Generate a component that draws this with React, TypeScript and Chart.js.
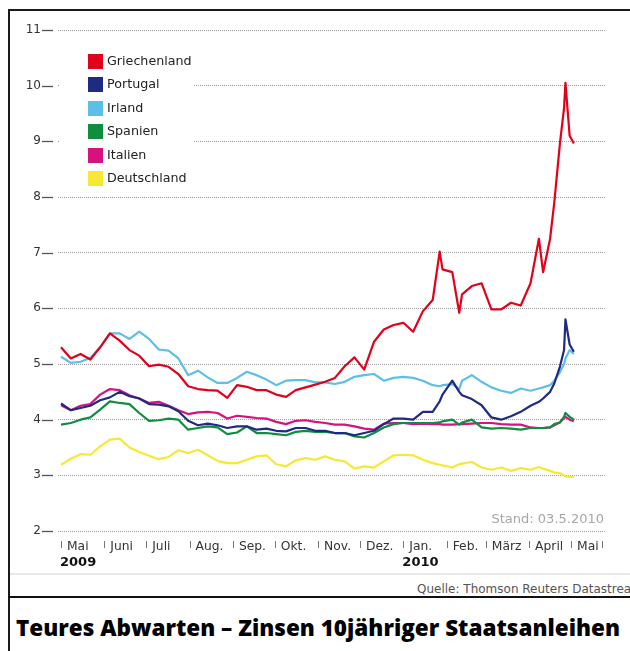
import React, { useEffect, useRef } from 'react';
import { Chart, registerables } from 'chart.js';

Chart.register(...registerables);

// Days since 1 May 2009
const days = [
  0, 7, 14, 21, 28, 35, 42, 49, 56, 63, 70, 77, 84, 91, 98, 105, 112, 119, 126, 133,
  140, 147, 154, 161, 168, 175, 182, 189, 196, 203, 210, 217, 224, 231, 238, 245, 252, 259, 266,
  271, 273, 280, 285, 287, 294, 301, 308, 315, 322, 329, 336,
  342, 345, 350, 353, 357, 360, 361, 364, 367,
];

const griechenland = [
  5.30, 5.10, 5.18, 5.08, 5.30, 5.55, 5.42, 5.25, 5.15, 4.96, 4.99, 4.95, 4.82, 4.60, 4.55, 4.53, 4.52, 4.39, 4.62, 4.59,
  4.53, 4.53, 4.45, 4.41, 4.53, 4.58, 4.63, 4.68, 4.75, 4.96, 5.12, 4.90, 5.40, 5.62, 5.70, 5.74, 5.58, 5.95, 6.15,
  7.02, 6.70, 6.65, 5.92, 6.25, 6.40, 6.45, 5.98, 5.98, 6.10, 6.05, 6.45,
  7.25, 6.65, 7.25, 7.90, 8.95, 9.60, 10.05, 9.10, 8.96,
];

const portugal = [
  4.29, 4.17, 4.21, 4.25, 4.35, 4.40, 4.50, 4.42, 4.38, 4.28, 4.27, 4.24, 4.15, 3.98, 3.90, 3.93, 3.90, 3.85, 3.88, 3.88,
  3.82, 3.84, 3.80, 3.79, 3.85, 3.85, 3.80, 3.80, 3.76, 3.76, 3.72, 3.76, 3.80, 3.92, 4.02, 4.02, 4.00, 4.14, 4.14,
  4.33, 4.45, 4.70, 4.50, 4.44, 4.37, 4.26, 4.04, 4.00, 4.06, 4.14, 4.25,
  4.32, 4.38, 4.50, 4.65, 4.95, 5.25, 5.80, 5.35, 5.22,
];

const irland = [
  5.13, 5.02, 5.04, 5.11, 5.30, 5.55, 5.55, 5.45, 5.58, 5.45, 5.26, 5.24, 5.10, 4.80, 4.88, 4.76, 4.66, 4.66, 4.75, 4.86,
  4.80, 4.72, 4.62, 4.70, 4.71, 4.71, 4.67, 4.67, 4.64, 4.68, 4.77, 4.80, 4.82, 4.70, 4.75, 4.77, 4.75, 4.70, 4.62,
  4.60, 4.62, 4.64, 4.55, 4.70, 4.80, 4.68, 4.58, 4.52, 4.48, 4.56, 4.52,
  4.56, 4.58, 4.62, 4.70, 4.85, 5.00, 5.10, 5.25, 5.18,
];

const spanien = [
  3.91, 3.94, 4.00, 4.04, 4.18, 4.33, 4.30, 4.28, 4.12, 3.98, 3.99, 4.02, 4.00, 3.82, 3.85, 3.88, 3.86, 3.74, 3.77, 3.88,
  3.76, 3.76, 3.74, 3.72, 3.78, 3.80, 3.78, 3.78, 3.76, 3.76, 3.70, 3.68, 3.76, 3.86, 3.92, 3.94, 3.94, 3.94, 3.94,
  3.95, 3.97, 4.00, 3.91, 3.95, 4.00, 3.86, 3.84, 3.85, 3.84, 3.82, 3.85,
  3.85, 3.85, 3.86, 3.92, 3.95, 4.05, 4.12, 4.05, 4.00,
];

const italien = [
  4.26, 4.17, 4.25, 4.28, 4.45, 4.55, 4.53, 4.44, 4.38, 4.30, 4.32, 4.25, 4.17, 4.10, 4.13, 4.14, 4.12, 4.02, 4.07, 4.05,
  4.03, 4.02, 3.96, 3.92, 3.98, 3.99, 3.96, 3.94, 3.91, 3.91, 3.88, 3.84, 3.82, 3.93, 3.94, 3.94, 3.92, 3.93, 3.92,
  3.92, 3.91, 3.91, 3.92, 3.92, 3.93, 3.94, 3.94, 3.92, 3.91, 3.91, 3.86,
  3.85, 3.85, 3.86, 3.90, 3.95, 4.03, 4.05, 4.00, 3.97,
];

const deutschland = [
  3.19, 3.30, 3.38, 3.37, 3.52, 3.64, 3.66, 3.50, 3.42, 3.35, 3.29, 3.33, 3.45, 3.40, 3.46, 3.36, 3.26, 3.22, 3.22, 3.28,
  3.34, 3.36, 3.20, 3.16, 3.27, 3.31, 3.28, 3.34, 3.28, 3.25, 3.12, 3.16, 3.14, 3.25, 3.36, 3.37, 3.36, 3.28, 3.22,
  3.19, 3.18, 3.14, 3.20, 3.21, 3.24, 3.14, 3.10, 3.14, 3.08, 3.13, 3.10,
  3.15, 3.12, 3.08, 3.05, 3.04, 3.00, 2.98, 2.97, 2.97,
];

const seriesNames = ['Griechenland', 'Portugal', 'Irland', 'Spanien', 'Italien', 'Deutschland'];
const seriesValues = [griechenland, portugal, irland, spanien, italien, deutschland];
const seriesColors = ['#e2001a', '#1d2b82', '#5cbfe8', '#0e8e3e', '#d8117e', '#f7e835'];

const monthStartDays = [0, 31, 61, 92, 123, 153, 184, 214, 245, 276, 304, 335, 365, 387];
const monthLabels = ['Mai', 'Juni', 'Juli', 'Aug.', 'Sep.', 'Okt.', 'Nov.', 'Dez.', 'Jan.', 'Feb.', 'März', 'April', 'Mai', ''];
const yearMonthIndex = [0, 8];
const yearLabels = ['2009', '2010'];
const yMin = 2;
const yMax = 11;

const standText = 'Stand: 03.5.2010';
const sourceText = 'Quelle: Thomson Reuters Datastream';
const titleText = 'Teures Abwarten – Zinsen 10jähriger Staatsanleihen';

const FONT = '"DejaVu Sans", Verdana, sans-serif';

const overlayPlugin = {
  id: 'overlay',
  afterDraw(chart: any) {
    const { ctx, chartArea, scales } = chart;
    const xs = scales.x;
    const ys = scales.y;
    ctx.save();
    // y tick dashes
    ctx.strokeStyle = '#555';
    ctx.lineWidth = 1.3;
    ys.ticks.forEach((t: any) => {
      const py = Math.round(ys.getPixelForValue(t.value)) + 0.5;
      ctx.beginPath();
      ctx.moveTo(chartArea.left - 16, py);
      ctx.lineTo(chartArea.left - 5, py);
      ctx.stroke();
    });
    // x tick marks
    ctx.strokeStyle = '#777';
    ctx.lineWidth = 1;
    xs.ticks.forEach((t: any) => {
      const px = Math.round(xs.getPixelForValue(t.value)) + 0.5;
      ctx.beginPath();
      ctx.moveTo(px, chartArea.bottom + 10);
      ctx.lineTo(px, chartArea.bottom + 17);
      ctx.stroke();
    });
    // legend box
    ctx.fillStyle = '#ffffff';
    ctx.fillRect(chartArea.left + 2, chartArea.top + 18, 133, 142);
    ctx.font = `12.7px ${FONT}`;
    ctx.textBaseline = 'middle';
    ctx.textAlign = 'left';
    seriesNames.forEach((name, i) => {
      const cy = chartArea.top + 31 + i * 23.5;
      ctx.fillStyle = seriesColors[i];
      ctx.fillRect(chartArea.left + 30, Math.round(cy - 7.5), 15, 15);
      ctx.fillStyle = '#222';
      ctx.fillText(name, chartArea.left + 49, cy + 0.5);
    });
    // Stand
    ctx.font = `13px ${FONT}`;
    ctx.fillStyle = '#a6a6a6';
    ctx.textAlign = 'right';
    ctx.fillText(standText, chartArea.right - 1, chartArea.bottom - 11);
    // years
    ctx.font = `bold 13px ${FONT}`;
    ctx.fillStyle = '#111';
    ctx.textAlign = 'left';
    yearMonthIndex.forEach((m, i) => {
      ctx.fillText(yearLabels[i], xs.getPixelForValue(monthStartDays[m]) - 1, chartArea.bottom + 32);
    });
    ctx.restore();
  },
};

export default function App() {
  const ref = useRef<HTMLCanvasElement>(null);
  useEffect(() => {
    const chart = new Chart(ref.current as HTMLCanvasElement, {
      type: 'line',
      data: {
        datasets: seriesNames.map((name, i) => ({
          label: name,
          data: days.map((d, j) => ({ x: d, y: seriesValues[i][j] })),
          borderColor: seriesColors[i],
          backgroundColor: seriesColors[i],
          borderWidth: 2.2,
          pointRadius: 0,
          tension: 0,
          borderJoinStyle: 'round',
          fill: false,
        })),
      },
      options: {
        responsive: false,
        animation: false,
        devicePixelRatio: 1,
        layout: { padding: { top: 19, right: 25, bottom: 0, left: 0 }, autoPadding: false },
        plugins: { legend: { display: false }, tooltip: { enabled: false } },
        scales: {
          x: {
            type: 'linear',
            min: -2.15,
            max: 389.3,
            afterFit: (s: any) => { s.height = 42; },
            afterBuildTicks: (s: any) => { s.ticks = monthStartDays.map((v) => ({ value: v })); },
            ticks: {
              callback: (_v: any, i: number) => monthLabels[i] ?? '',
              align: 'start',
              labelOffset: 6,
              padding: 8,
              maxRotation: 0,
              autoSkip: false,
              color: '#333',
              font: { family: FONT, size: 12.3 },
            },
            grid: { drawOnChartArea: false, drawTicks: false },
            border: { display: false },
          },
          y: {
            min: yMin,
            max: yMax,
            afterFit: (s: any) => { s.width = 48; },
            ticks: { stepSize: 1, padding: 2, color: '#333', font: { family: FONT, size: 12 } },
            grid: { color: '#9a9a9a', lineWidth: 1, drawTicks: true, tickLength: 15, tickWidth: 0 },
            border: { display: false, dash: [1, 1] },
          },
        },
      } as any,
      plugins: [overlayPlugin],
    });
    return () => chart.destroy();
  }, []);

  return (
    <div style={{ position: 'absolute', left: 0, top: 0, width: 630, height: 651, overflow: 'hidden', background: '#fff' }}>
      <div style={{ position: 'absolute', left: 8, top: 9, right: 0, bottom: 0, borderLeft: '2px solid #1a1a1a', borderTop: '2px solid #1a1a1a' }} />
      <canvas ref={ref} width={620} height={562} style={{ position: 'absolute', left: 10, top: 11, width: 620, height: 562 }} />
      <div style={{ position: 'absolute', left: 10, top: 573, right: 0, height: 2, background: '#e8e8e8' }} />
      <div style={{ position: 'absolute', left: 417, top: 582, whiteSpace: 'nowrap', font: `12px ${FONT}`, color: '#555' }}>{sourceText}</div>
      <div style={{ position: 'absolute', left: 8, top: 596, right: 0, height: 2, background: '#111' }} />
      <svg style={{ position: 'absolute', left: 10, top: 600 }} width={620} height={51}>
        <text x={6} y={36} textLength={604} lengthAdjust="spacingAndGlyphs" fill="#000" style={{ font: '800 22px "Open Sans", "DejaVu Sans", sans-serif' }}>
          {titleText}
        </text>
      </svg>
    </div>
  );
}
